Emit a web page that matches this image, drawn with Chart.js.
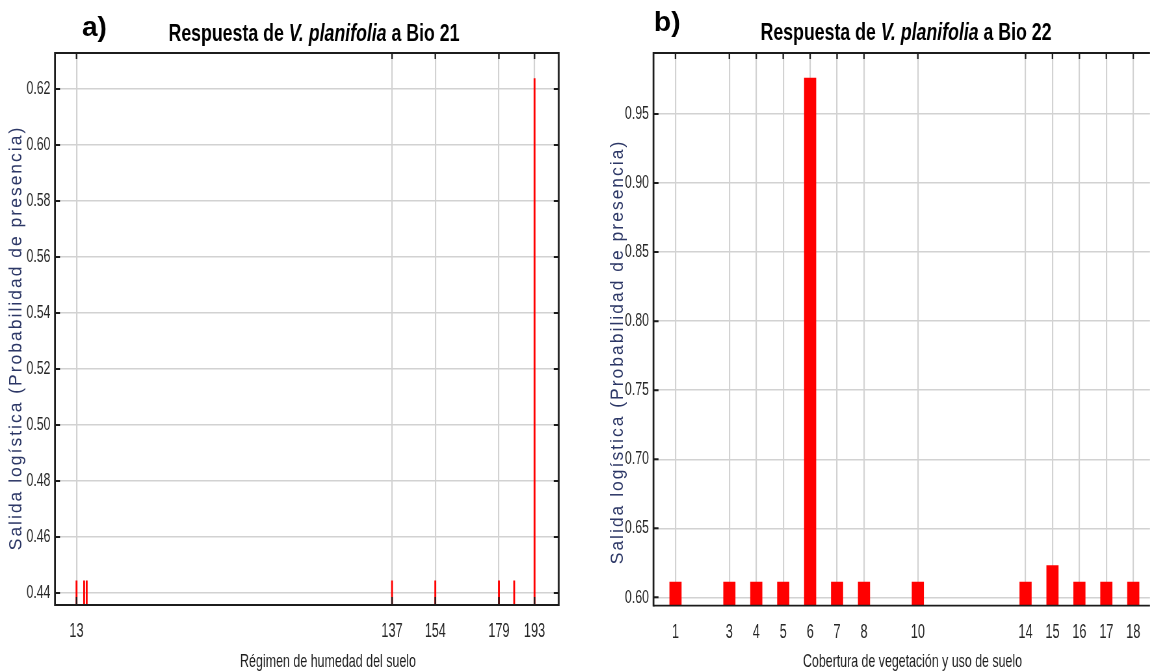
<!DOCTYPE html>
<html>
<head>
<meta charset="utf-8">
<script src="https://cdn.jsdelivr.net/npm/chart.js@4.4.1/dist/chart.umd.min.js"></script>
<style>
  html, body { margin: 0; padding: 0; background: #fff; width: 1150px; height: 672px; overflow: hidden; }
  .panel { position: absolute; top: 0; transform-origin: 0 0; }
</style>
</head>
<body>
<div class="panel" id="panelA" style="left:0px"><canvas id="chartA" width="892" height="672"></canvas></div>
<div class="panel" id="panelB" style="left:580px"><canvas id="chartB" width="877" height="672"></canvas></div>
<script>
// Bio 21 – régimen de humedad del suelo
const bio21Categories = [13, 16, 17, 137, 154, 179, 185, 193];
const bio21Values     = [0.4443, 0.4443, 0.4443, 0.4443, 0.4443, 0.4443, 0.4443, 0.6238];
const bio21XTicks     = [13, 137, 154, 179, 193];
const bio21YTicks     = [0.44, 0.46, 0.48, 0.50, 0.52, 0.54, 0.56, 0.58, 0.60, 0.62];

// Bio 22 – cobertura de vegetación y uso de suelo
const bio22Categories = [1, 3, 4, 5, 6, 7, 8, 10, 14, 15, 16, 17, 18];
const bio22Values     = [0.611, 0.611, 0.611, 0.611, 0.976, 0.611, 0.611, 0.611, 0.611, 0.623, 0.611, 0.611, 0.611];
const bio22XTicks     = [1, 3, 4, 5, 6, 7, 8, 10, 14, 15, 16, 17, 18];
const bio22YTicks     = [0.60, 0.65, 0.70, 0.75, 0.80, 0.85, 0.90, 0.95];

const yLabel = 'Salida logística (Probabilidad de presencia)';

// the plots use condensed lettering: each canvas is drawn wide and squeezed horizontally
const SQ = 0.65;
document.getElementById('panelA').style.transform = 'scaleX(' + SQ + ')';
document.getElementById('panelB').style.transform = 'scaleX(' + SQ + ')';

const FONT = '"Liberation Sans", Arial, Helvetica, sans-serif';

// text run(s) centred on cx and stretched to a given width
function drawFitted(ctx, parts, cx, baseline, weight, size, targetWidth, color) {
  ctx.save();
  const fonts = parts.map(p => (p.italic ? 'italic ' : '') + weight + ' ' + size + 'px ' + FONT);
  const widths = parts.map((p, i) => { ctx.font = fonts[i]; return ctx.measureText(p.text).width; });
  const total = widths.reduce((s, w) => s + w, 0);
  ctx.translate(cx, baseline);
  ctx.scale(targetWidth / total, 1);
  ctx.fillStyle = color;
  ctx.textAlign = 'left';
  ctx.textBaseline = 'alphabetic';
  let xx = -total / 2;
  parts.forEach((p, i) => { ctx.font = fonts[i]; ctx.fillText(p.text, xx, 0); xx += widths[i]; });
  ctx.restore();
}

const panelDecor = {
  id: 'panelDecor',
  afterDatasetsDraw(chart, args, o) {
    const { ctx, chartArea: a, scales: { x, y } } = chart;
    ctx.save();
    ctx.strokeStyle = '#1c1c1c';
    // inward tick marks on the frame
    ctx.lineWidth = 1.5 / SQ;
    ctx.beginPath();
    x.ticks.forEach(t => {
      const px = x.getPixelForValue(t.value);
      ctx.moveTo(px, a.top); ctx.lineTo(px, a.top + 6);
      if (o.bottomTicks) { ctx.moveTo(px, a.bottom); ctx.lineTo(px, a.bottom - 8); }
    });
    ctx.stroke();
    ctx.lineWidth = 2;
    ctx.beginPath();
    y.ticks.forEach(t => {
      const py = y.getPixelForValue(t.value);
      ctx.moveTo(a.left, py); ctx.lineTo(a.left + 5 / SQ, py);
      if (o.rightFrame) { ctx.moveTo(a.right, py); ctx.lineTo(a.right - 5 / SQ, py); }
    });
    ctx.stroke();
    // frame
    ctx.lineWidth = 1.8;
    ctx.beginPath();
    ctx.moveTo(a.left, a.top); ctx.lineTo(a.right, a.top);
    ctx.moveTo(a.left, a.bottom); ctx.lineTo(a.right, a.bottom);
    ctx.stroke();
    ctx.lineWidth = 1.8 / SQ;
    ctx.beginPath();
    ctx.moveTo(a.left, a.top - 0.9); ctx.lineTo(a.left, a.bottom + 0.9);
    if (o.rightFrame) { ctx.moveTo(a.right, a.top - 0.9); ctx.lineTo(a.right, a.bottom + 0.9); }
    ctx.stroke();
    ctx.restore();
  },
  afterDraw(chart, args, o) {
    const ctx = chart.ctx;
    // panel letter, normal proportions
    ctx.save();
    ctx.translate(o.letterX / SQ, o.letterY);
    ctx.scale(1 / SQ, 1);
    ctx.font = 'bold 28px ' + FONT;
    ctx.fillStyle = '#000';
    ctx.textAlign = 'left';
    ctx.textBaseline = 'alphabetic';
    ctx.fillText(o.letter, 0, 0);
    ctx.restore();
    // title
    drawFitted(ctx, o.title, o.titleX / SQ, o.titleY, 'bold', 24, o.titleWidth / SQ, '#000');
    // horizontal axis label
    drawFitted(ctx, [{ text: o.xLabel }], o.xLabelX / SQ, o.xLabelY, 'normal', 18.5, o.xLabelWidth / SQ, '#1e1e1e');
    // vertical axis label, normal proportions with open spacing
    ctx.save();
    ctx.translate(o.yLabelX / SQ, o.yLabelY);
    ctx.scale(1 / SQ, 1);
    ctx.rotate(-Math.PI / 2);
    ctx.font = '17.5px ' + FONT;
    ctx.letterSpacing = '2px';
    ctx.fillStyle = '#2c3766';
    ctx.textAlign = 'center';
    ctx.textBaseline = 'middle';
    ctx.fillText(o.yLabel, 0, 0);
    ctx.restore();
  }
};

function makeChart(id, cfg) {
  return new Chart(document.getElementById(id), {
    type: 'bar',
    data: {
      datasets: [{
        data: cfg.cats.map((c, i) => ({ x: c, y: cfg.vals[i] })),
        backgroundColor: '#ff0000',
        borderWidth: 0,
        barThickness: cfg.barThickness,
        base: cfg.yMin
      }]
    },
    options: {
      responsive: false,
      animation: false,
      devicePixelRatio: 1,
      layout: { padding: { left: 0, right: cfg.padRight, top: 53, bottom: 0 } },
      plugins: {
        legend: { display: false },
        tooltip: { enabled: false },
        panelDecor: cfg.decor
      },
      scales: {
        x: {
          type: 'linear',
          min: cfg.xMin, max: cfg.xMax,
          offset: false,
          afterBuildTicks: s => { s.ticks = cfg.xTicks.map(v => ({ value: v })); },
          afterFit: s => { s.height = cfg.xHeight; },
          grid: { color: '#d2d2d2', lineWidth: 1.4 / SQ, drawTicks: false, offset: false },
          border: { display: false },
          ticks: { padding: 15, font: { family: FONT, size: 19.5 }, color: '#262626', maxRotation: 0, autoSkip: false, callback: v => String(v) }
        },
        y: {
          type: 'linear',
          min: cfg.yMin, max: cfg.yMax,
          afterBuildTicks: s => { s.ticks = cfg.yTicks.map(v => ({ value: v })); },
          afterFit: s => { s.width = cfg.yWidth; },
          grid: { color: '#d2d2d2', lineWidth: 1.4, drawTicks: false },
          border: { display: false },
          ticks: { padding: 7, font: { family: FONT, size: 19 }, color: '#262626', autoSkip: false, callback: v => v.toFixed(2) }
        }
      }
    },
    plugins: [panelDecor]
  });
}

makeChart('chartA', {
  cats: bio21Categories, vals: bio21Values, xTicks: bio21XTicks, yTicks: bio21YTicks,
  xMin: 4.55, xMax: 202.5, yMin: 0.4357, yMax: 0.6329,
  barThickness: 2.2, padRight: 892 - 558.7 / SQ, yWidth: 55 / SQ, xHeight: 67,
  decor: {
    rightFrame: true, bottomTicks: true,
    letter: 'a)', letterX: 82, letterY: 36,
    title: [{ text: 'Respuesta de ' }, { text: 'V. planifolia', italic: true }, { text: ' a Bio 21' }],
    titleX: 314, titleY: 40.5, titleWidth: 291,
    xLabel: 'Régimen de humedad del suelo', xLabelX: 328, xLabelY: 667, xLabelWidth: 176,
    yLabel: yLabel, yLabelX: 16.5, yLabelY: 338
  }
});

makeChart('chartB', {
  cats: bio22Categories, vals: bio22Values, xTicks: bio22XTicks, yTicks: bio22YTicks,
  xMin: 0.183, xMax: 18.62, yMin: 0.5939, yMax: 0.9942,
  barThickness: 11.7 / SQ, padRight: 0, yWidth: (653.5 - 580) / SQ, xHeight: 66.3,
  decor: {
    rightFrame: false, bottomTicks: false,
    letter: 'b)', letterX: 654 - 580, letterY: 31,
    title: [{ text: 'Respuesta de ' }, { text: 'V. planifolia', italic: true }, { text: ' a Bio 22' }],
    titleX: 906 - 580, titleY: 40, titleWidth: 291,
    xLabel: 'Cobertura de vegetación y uso de suelo', xLabelX: 912.5 - 580, xLabelY: 667, xLabelWidth: 219,
    yLabel: yLabel, yLabelX: 618 - 580, yLabelY: 352
  }
});
</script>
</body>
</html>
